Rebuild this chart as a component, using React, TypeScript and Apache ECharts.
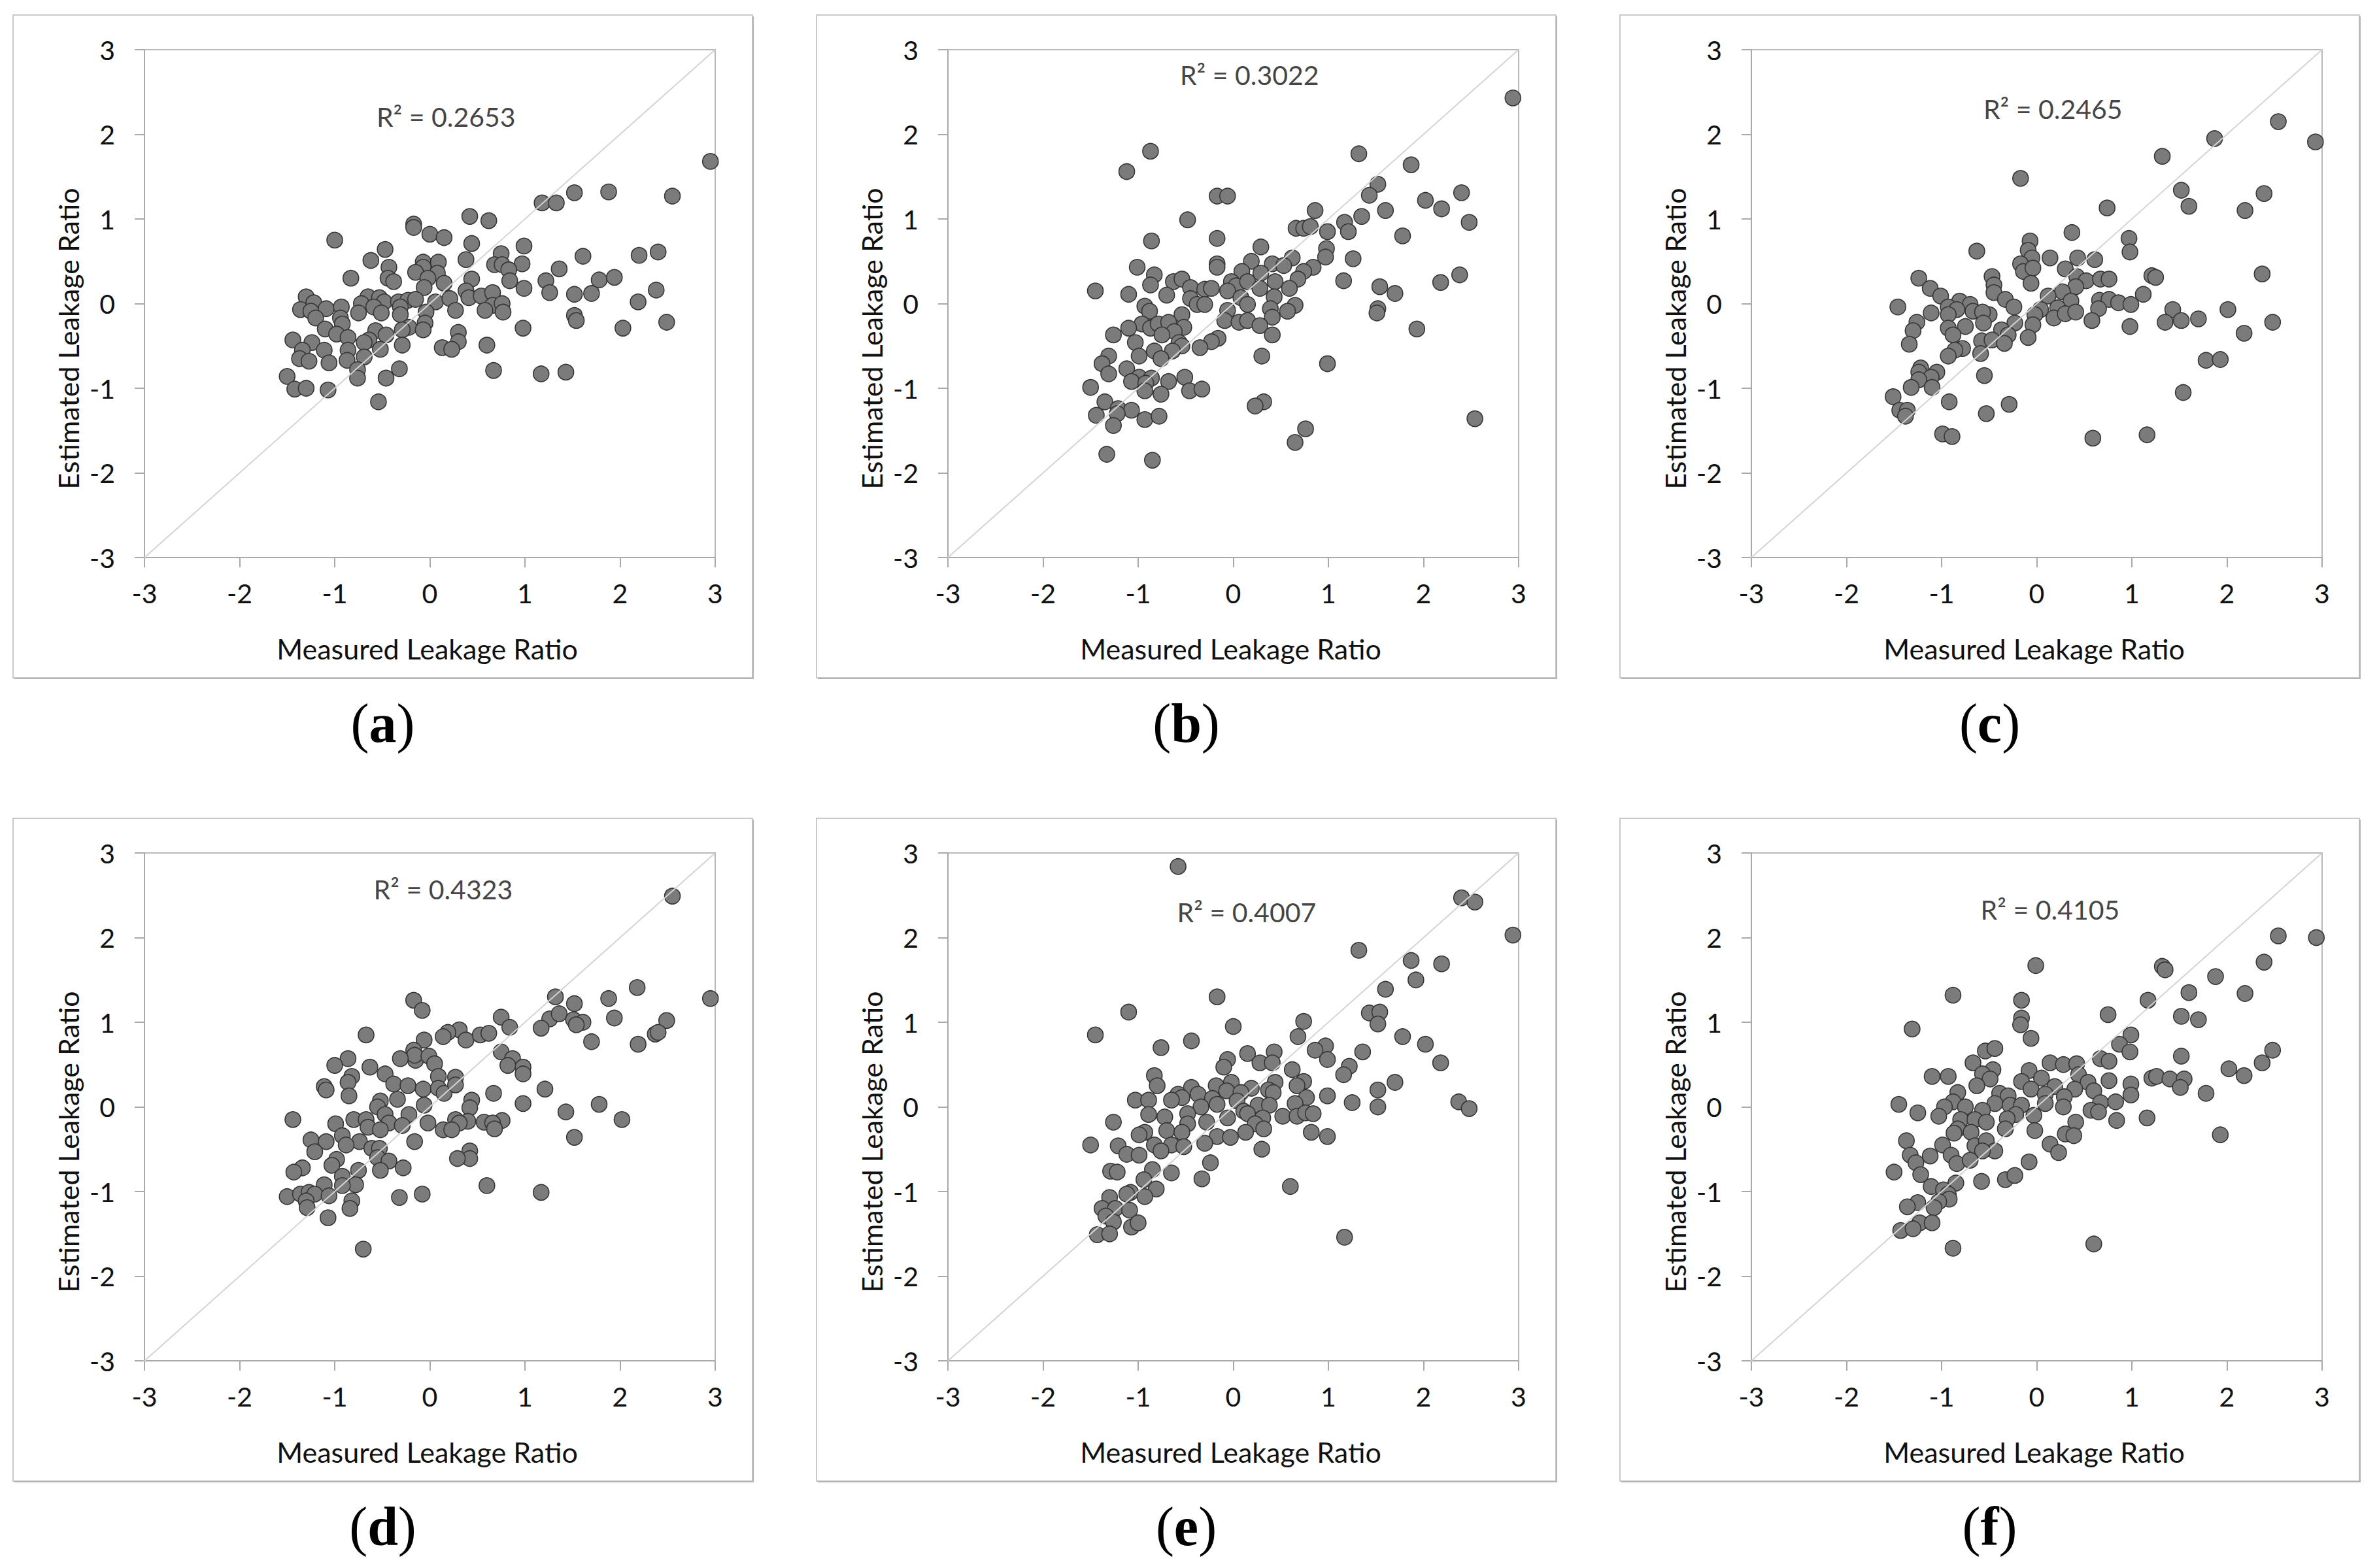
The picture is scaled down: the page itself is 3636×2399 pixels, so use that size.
import React, { useEffect, useRef } from "react";
import * as echarts from "echarts";

// ---------- DATA: [measured, estimated] leakage ratio pairs ----------
const panelA: number[][] = [
  [2.95,1.68],[1.52,1.31],[1.88,1.32],[1.18,1.19],[1.33,1.19],[2.55,1.27],[0.42,1.03],[0.62,0.98],[-0.17,0.94],[-0.17,0.90],
  [0.0,0.82],[0.15,0.78],[-1.0,0.75],[0.44,0.71],[-0.47,0.64],[0.99,0.68],[0.75,0.59],[1.61,0.56],[2.20,0.57],[2.40,0.61],
  [-0.62,0.51],[0.38,0.52],[-0.07,0.49],[0.09,0.49],[0.97,0.47],[0.68,0.46],[0.76,0.46],[-0.43,0.43],[-0.07,0.43],[-0.15,0.37],
  [0.08,0.36],[0.83,0.40],[1.36,0.41],[-0.83,0.30],[-0.44,0.30],[-0.38,0.26],[-0.02,0.30],[0.15,0.24],[0.44,0.29],[0.84,0.27],
  [1.22,0.27],[1.78,0.28],[1.94,0.31],[-0.06,0.19],[0.99,0.18],[1.26,0.13],[1.52,0.11],[1.70,0.12],[2.38,0.16],[-1.30,0.08],
  [-0.65,0.08],[-0.53,0.07],[-0.48,0.02],[-0.33,0.02],[-0.23,0.04],[-0.15,0.05],[0.06,0.02],[0.21,0.06],[0.38,0.15],[0.41,0.07],
  [0.54,0.09],[0.66,0.13],[0.66,-0.02],[0.76,0.0],[-1.22,0.01],[-1.36,-0.07],[-1.25,-0.09],[-1.09,-0.06],[-0.93,-0.04],[-0.72,0.0],
  [-0.59,-0.04],[-0.31,-0.04],[-0.04,-0.10],[0.27,-0.08],[0.58,-0.08],[0.77,-0.10],[-0.75,-0.11],[-0.51,-0.11],[-0.31,-0.13],[-1.20,-0.17],
  [-0.94,-0.17],[1.52,-0.14],[1.54,-0.20],[2.49,-0.22],[-0.92,-0.24],[-0.05,-0.23],[-0.22,-0.28],[0.98,-0.29],[2.19,0.02],[2.03,-0.29],
  [-1.10,-0.30],[-0.29,-0.31],[-0.07,-0.31],[-0.57,-0.32],[-0.98,-0.36],[-0.46,-0.37],[0.30,-0.34],[-0.86,-0.40],[-1.44,-0.43],[-1.24,-0.46],
  [-0.64,-0.43],[0.30,-0.45],[-0.69,-0.46],[-0.29,-0.49],[0.60,-0.49],[0.13,-0.52],[0.23,-0.54],[-0.52,-0.54],[-1.11,-0.55],[-1.34,-0.55],
  [-0.86,-0.55],[-0.69,-0.63],[-1.37,-0.65],[-1.27,-0.68],[-0.87,-0.67],[-1.06,-0.70],[-0.76,-0.78],[-0.32,-0.77],[0.67,-0.79],[1.17,-0.83],
  [1.43,-0.81],[-1.50,-0.86],[-0.76,-0.88],[-0.46,-0.88],[-1.42,-1.01],[-1.30,-1.00],[-1.07,-1.02],[-0.54,-1.16],
];

const panelB: number[][] = [
  [2.94,2.43],[-0.87,1.80],[1.32,1.77],[-1.12,1.56],[1.87,1.64],[1.52,1.41],[1.43,1.28],[2.40,1.31],[-0.17,1.27],[-0.06,1.27],
  [2.02,1.22],[2.19,1.12],[0.86,1.10],[1.60,1.10],[-0.48,0.99],[1.35,1.03],[2.48,0.96],[1.17,0.96],[0.66,0.89],[0.74,0.89],
  [0.81,0.91],[0.99,0.85],[1.21,0.85],[1.78,0.80],[-0.17,0.77],[-0.86,0.74],[0.29,0.67],[0.98,0.65],[0.97,0.55],[0.62,0.54],
  [1.26,0.53],[-0.17,0.47],[-0.17,0.43],[0.19,0.50],[0.41,0.47],[0.53,0.45],[0.84,0.43],[-1.01,0.43],[-0.83,0.34],[0.09,0.38],
  [0.29,0.36],[0.74,0.38],[0.68,0.29],[1.16,0.27],[2.38,0.34],[2.18,0.25],[-0.87,0.22],[-0.63,0.26],[-0.54,0.29],[-0.45,0.19],
  [-0.30,0.17],[-0.23,0.18],[-0.02,0.26],[0.03,0.21],[0.15,0.26],[0.28,0.18],[0.44,0.26],[0.59,0.18],[1.54,0.20],[1.70,0.12],
  [-1.45,0.15],[-1.10,0.11],[-0.70,0.10],[-0.45,0.06],[-0.38,-0.01],[-0.30,-0.01],[-0.06,0.15],[0.08,0.07],[0.15,-0.01],[0.43,0.08],
  [0.65,-0.02],[-0.93,-0.03],[-0.88,-0.09],[-0.06,-0.08],[0.39,-0.06],[0.57,-0.09],[1.52,-0.06],[1.51,-0.11],[-0.54,-0.13],[0.41,-0.16],
  [-0.96,-0.24],[-1.10,-0.29],[-0.87,-0.29],[-0.79,-0.24],[-0.68,-0.22],[-0.52,-0.28],[-0.09,-0.20],[0.06,-0.22],[0.15,-0.20],[0.28,-0.26],
  [1.93,-0.30],[-0.62,-0.33],[-0.75,-0.37],[-1.26,-0.37],[0.41,-0.37],[-0.16,-0.41],[-0.23,-0.45],[-1.03,-0.46],[-0.57,-0.46],[-0.54,-0.50],
  [-0.35,-0.52],[-0.64,-0.56],[-0.83,-0.56],[-0.99,-0.62],[-0.76,-0.65],[0.30,-0.62],[-1.31,-0.62],[-1.38,-0.71],[0.99,-0.71],[-1.12,-0.77],
  [-1.31,-0.83],[-0.99,-0.87],[-1.07,-0.92],[-0.86,-0.88],[-0.92,-0.94],[-0.68,-0.92],[-0.51,-0.87],[-1.50,-0.99],[-0.93,-1.03],[-0.76,-1.07],
  [-0.46,-1.03],[-0.33,-1.01],[-1.35,-1.16],[0.32,-1.16],[0.23,-1.21],[-1.44,-1.32],[-1.21,-1.24],[-1.07,-1.26],[-1.22,-1.30],[-1.26,-1.44],
  [-0.93,-1.37],[-0.78,-1.33],[2.54,-1.36],[0.76,-1.48],[0.65,-1.64],[-1.33,-1.78],[-0.85,-1.85],
];

const panelC: number[][] = [
  [2.54,2.15],[2.93,1.91],[1.87,1.95],[1.32,1.74],[-0.17,1.48],[1.52,1.34],[2.39,1.30],[0.74,1.13],[1.60,1.15],[2.19,1.10],
  [0.37,0.84],[-0.07,0.74],[-0.09,0.63],[0.97,0.77],[0.98,0.61],[-0.63,0.62],[0.14,0.54],[0.43,0.54],[0.61,0.52],[-0.05,0.54],
  [-0.17,0.47],[-0.14,0.38],[-0.04,0.42],[0.30,0.41],[-0.47,0.32],[-1.24,0.30],[-0.45,0.22],[-0.06,0.24],[0.42,0.32],[0.52,0.27],
  [0.67,0.29],[0.76,0.29],[1.21,0.33],[1.25,0.31],[2.37,0.35],[0.41,0.20],[-1.12,0.18],[-1.01,0.09],[-0.45,0.13],[-0.33,0.05],
  [0.27,0.14],[0.12,0.09],[1.12,0.11],[-0.81,0.03],[-0.70,-0.01],[0.36,0.03],[0.66,0.04],[0.76,0.05],[0.86,0.01],[0.99,-0.01],
  [-1.46,-0.04],[-0.93,-0.04],[-0.84,-0.07],[-0.67,-0.09],[-0.50,-0.13],[-0.24,-0.04],[0.04,-0.07],[0.22,-0.05],[0.65,-0.06],[1.43,-0.07],
  [2.01,-0.07],[-1.11,-0.11],[-0.93,-0.13],[-0.57,-0.10],[-0.02,-0.13],[0.18,-0.17],[0.30,-0.12],[0.41,-0.10],[0.58,-0.20],[1.35,-0.22],
  [1.52,-0.20],[1.70,-0.18],[2.48,-0.22],[-1.26,-0.22],[-0.75,-0.27],[-0.56,-0.23],[-0.23,-0.23],[-0.04,-0.25],[0.98,-0.27],[-0.93,-0.29],
  [-1.30,-0.32],[-0.37,-0.31],[-0.30,-0.37],[-0.88,-0.37],[2.18,-0.35],[-0.09,-0.40],[-0.58,-0.44],[-0.47,-0.43],[-1.34,-0.48],[-0.34,-0.47],
  [-0.78,-0.53],[-0.86,-0.55],[-0.59,-0.59],[-0.93,-0.62],[1.78,-0.67],[1.93,-0.66],[-1.22,-0.76],[-1.24,-0.81],[-1.05,-0.81],[-1.11,-0.87],
  [-1.24,-0.90],[-0.55,-0.85],[-1.10,-0.99],[-1.32,-0.99],[1.54,-1.05],[-1.51,-1.10],[-0.92,-1.16],[-0.29,-1.19],[-1.44,-1.26],[-1.36,-1.26],
  [-1.38,-1.33],[-0.53,-1.30],[-0.99,-1.54],[-0.89,-1.57],[0.59,-1.59],[1.16,-1.55],
];

const panelD: number[][] = [
  [2.55,2.49],[2.95,1.28],[2.18,1.41],[1.32,1.30],[1.52,1.22],[1.88,1.28],[-0.17,1.26],[-0.08,1.14],[1.26,1.04],[1.36,1.10],
  [1.94,1.05],[2.49,1.02],[0.75,1.06],[1.51,1.03],[1.61,1.00],[1.54,0.97],[0.84,0.94],[1.17,0.93],[0.31,0.91],[0.19,0.88],
  [0.14,0.83],[0.38,0.79],[0.53,0.85],[0.62,0.87],[-0.67,0.85],[-0.06,0.79],[2.37,0.86],[2.40,0.88],[1.70,0.77],[2.19,0.74],
  [-0.17,0.67],[-0.15,0.55],[-0.16,0.61],[-0.31,0.57],[-0.01,0.60],[0.05,0.51],[0.75,0.65],[0.87,0.57],[0.82,0.49],[0.98,0.47],
  [0.98,0.39],[-0.86,0.57],[-1.00,0.49],[-0.63,0.47],[-0.47,0.39],[0.09,0.36],[0.27,0.35],[-0.82,0.36],[-0.86,0.29],[-0.38,0.27],
  [-0.23,0.25],[-0.07,0.21],[0.09,0.22],[0.15,0.16],[0.27,0.26],[1.21,0.21],[-1.11,0.24],[-1.09,0.20],[0.67,0.16],[-0.85,0.13],
  [-0.34,0.09],[0.44,0.08],[-0.52,0.07],[-0.06,0.02],[0.98,0.04],[1.78,0.03],[-0.55,0.0],[0.42,-0.01],[1.43,-0.06],[-0.47,-0.09],
  [-0.22,-0.09],[-1.44,-0.15],[-0.80,-0.15],[-0.67,-0.15],[0.27,-0.15],[0.40,-0.17],[0.57,-0.18],[0.76,-0.16],[2.02,-0.15],[-0.99,-0.20],
  [-0.65,-0.24],[-0.43,-0.19],[-0.29,-0.22],[-0.02,-0.19],[0.31,-0.19],[0.66,-0.19],[-0.52,-0.27],[0.14,-0.27],[0.23,-0.27],[0.68,-0.26],
  [1.52,-0.36],[-0.92,-0.34],[-0.16,-0.41],[-1.25,-0.39],[-1.09,-0.41],[-0.74,-0.41],[-0.88,-0.45],[-0.61,-0.49],[-0.53,-0.49],[-1.21,-0.53],
  [0.42,-0.52],[0.42,-0.61],[0.29,-0.61],[-0.98,-0.62],[-0.55,-0.60],[-0.43,-0.64],[-1.03,-0.69],[-1.34,-0.72],[-1.43,-0.77],[-0.75,-0.75],
  [-0.52,-0.75],[-0.28,-0.72],[-0.92,-0.82],[-1.11,-0.92],[-0.78,-0.92],[-0.92,-0.93],[0.60,-0.93],[-1.50,-1.06],[-1.36,-1.03],[-1.27,-1.01],
  [-1.21,-1.03],[-1.06,-1.05],[-1.30,-1.11],[-1.29,-1.19],[-0.82,-1.11],[-0.84,-1.20],[-0.32,-1.07],[-0.08,-1.03],[1.17,-1.01],[-1.07,-1.31],
  [-0.70,-1.68],
];

const panelE: number[][] = [
  [-0.58,2.84],[2.40,2.47],[2.54,2.42],[2.94,2.03],[1.32,1.85],[1.87,1.73],[2.19,1.69],[1.92,1.50],[1.60,1.39],[-0.17,1.30],
  [-1.10,1.12],[1.43,1.11],[1.54,1.12],[1.52,0.98],[0.74,1.01],[0.0,0.95],[-1.45,0.85],[0.68,0.83],[1.78,0.83],[-0.44,0.78],
  [2.02,0.74],[-0.76,0.70],[0.97,0.72],[0.86,0.67],[1.36,0.65],[0.15,0.63],[0.43,0.65],[0.99,0.56],[-0.06,0.56],[0.28,0.52],
  [0.41,0.52],[2.18,0.52],[-0.10,0.47],[1.22,0.48],[0.62,0.44],[1.16,0.38],[-0.83,0.37],[0.74,0.30],[0.44,0.29],[1.70,0.29],
  [-0.80,0.25],[-0.44,0.23],[-0.18,0.25],[-0.02,0.29],[0.19,0.22],[0.37,0.20],[0.42,0.17],[0.67,0.25],[1.52,0.20],[-0.58,0.15],
  [-0.54,0.11],[-0.37,0.15],[-0.22,0.10],[-0.07,0.19],[0.08,0.17],[-1.03,0.08],[-0.89,0.08],[-0.65,0.08],[0.99,0.13],[0.77,0.11],
  [0.04,0.07],[0.65,0.04],[-0.34,0.0],[0.26,0.02],[0.38,0.02],[1.25,0.05],[1.52,0.0],[2.37,0.06],[2.48,-0.02],[-0.17,0.03],
  [-0.89,-0.09],[-0.72,-0.12],[-0.48,-0.08],[0.11,-0.05],[0.15,-0.08],[0.31,-0.13],[0.52,-0.11],[0.67,-0.11],[0.76,-0.07],[0.84,-0.08],
  [-1.26,-0.18],[-0.28,-0.18],[-0.06,-0.13],[0.23,-0.20],[-0.48,-0.20],[-0.70,-0.28],[-0.54,-0.30],[-0.93,-0.30],[-0.99,-0.33],[0.32,-0.26],
  [0.13,-0.30],[0.82,-0.30],[-0.17,-0.35],[-0.03,-0.36],[0.99,-0.35],[-1.50,-0.45],[-1.21,-0.46],[-0.83,-0.45],[-0.65,-0.45],[-0.52,-0.47],
  [-0.30,-0.43],[-0.76,-0.52],[0.30,-0.50],[-1.12,-0.56],[-0.99,-0.57],[-0.24,-0.66],[-0.85,-0.74],[-1.29,-0.76],[-1.22,-0.77],[-0.65,-0.78],
  [-0.94,-0.86],[-0.33,-0.85],[0.60,-0.94],[-0.81,-0.97],[-1.08,-1.01],[-1.12,-1.03],[-0.93,-1.06],[-1.30,-1.07],[-1.38,-1.20],[-1.24,-1.20],
  [-1.09,-1.22],[-1.34,-1.29],[-1.26,-1.36],[-1.07,-1.42],[-1.00,-1.37],[-1.43,-1.51],[-1.30,-1.50],[1.17,-1.54],
];

const panelF: number[][] = [
  [2.54,2.02],[2.94,2.00],[-0.01,1.67],[1.32,1.66],[1.35,1.62],[2.39,1.71],[1.88,1.54],[-0.88,1.32],[1.60,1.35],[2.19,1.34],
  [-0.16,1.26],[1.17,1.26],[-1.31,0.92],[-0.16,1.05],[-0.17,0.97],[0.75,1.09],[1.52,1.07],[1.70,1.03],[-0.06,0.81],[0.99,0.85],
  [0.87,0.74],[0.98,0.65],[-0.54,0.66],[-0.44,0.69],[2.48,0.67],[1.52,0.60],[0.67,0.57],[0.76,0.54],[-0.67,0.52],[0.14,0.52],
  [0.28,0.50],[0.42,0.51],[2.37,0.52],[-0.46,0.44],[-0.08,0.43],[-0.57,0.39],[0.44,0.38],[2.02,0.45],[-1.10,0.36],[-0.93,0.36],
  [-0.49,0.33],[0.05,0.34],[0.76,0.31],[1.21,0.34],[1.26,0.36],[1.40,0.33],[1.55,0.33],[2.18,0.37],[0.54,0.29],[0.99,0.27],
  [-0.63,0.25],[-0.16,0.30],[-0.06,0.21],[0.19,0.24],[0.40,0.21],[1.51,0.23],[-0.39,0.16],[-0.30,0.13],[0.09,0.15],[0.29,0.12],
  [0.60,0.19],[0.99,0.14],[1.78,0.16],[-0.83,0.17],[-0.88,0.06],[-0.75,0.0],[-0.97,0.0],[-0.44,0.04],[-0.28,0.02],[-0.16,0.02],
  [0.09,0.04],[0.28,0.0],[0.67,0.05],[0.83,0.06],[-1.45,0.03],[-1.25,-0.07],[-0.57,-0.04],[-0.22,-0.09],[-0.03,-0.10],[0.57,-0.04],
  [0.65,-0.06],[-1.03,-0.11],[-0.80,-0.15],[-0.65,-0.15],[-0.53,-0.18],[-0.31,-0.14],[1.16,-0.13],[0.84,-0.16],[0.41,-0.18],[-0.83,-0.26],
  [-0.69,-0.30],[-0.87,-0.31],[-0.33,-0.26],[-0.02,-0.28],[0.30,-0.32],[0.39,-0.34],[1.93,-0.33],[-1.37,-0.40],[-0.99,-0.45],[-0.65,-0.46],
  [-0.53,-0.40],[0.14,-0.44],[-1.33,-0.57],[-1.12,-0.58],[-0.90,-0.57],[-0.44,-0.52],[0.23,-0.54],[-0.57,-0.52],[-1.27,-0.66],[-0.84,-0.67],
  [-0.70,-0.63],[-0.08,-0.65],[-1.50,-0.77],[-1.22,-0.80],[-0.33,-0.86],[-0.23,-0.81],[-0.58,-0.88],[-0.85,-0.90],[-1.11,-0.94],[-0.98,-0.98],
  [-0.93,-1.03],[-0.92,-1.09],[-1.03,-1.12],[-1.08,-1.19],[-1.25,-1.13],[-1.36,-1.18],[-1.23,-1.37],[-1.10,-1.37],[-1.43,-1.46],[-1.30,-1.44],
  [-0.88,-1.67],[0.60,-1.62],
];

const panels = [panelA, panelB, panelC, panelD, panelE, panelF];
const panelLetters = ["a", "b", "c", "d", "e", "f"];
const r2Texts = ["R\u00b2 = 0.2653", "R\u00b2 = 0.3022", "R\u00b2 = 0.2465", "R\u00b2 = 0.4323", "R\u00b2 = 0.4007", "R\u00b2 = 0.4105"];
// where each R² note sits, in data units of its panel
const r2Anchor: number[][] = [[0.17, 2.21], [0.17, 2.70], [0.17, 2.30], [0.14, 2.57], [0.14, 2.30], [0.14, 2.33]];
const axisMin = -3;
const axisMax = 3;
const axisStep = 1;
const xTitle = "Measured Leakage Ratio";
const yTitle = "Estimated Leakage Ratio";

// ---------- LAYOUT ----------
const W = 3636;
const H = 2399;
const PITCH_X = 1229;
const PITCH_Y = 1229;
const PLOT_L = 221;
const PLOT_T = 76;
const PLOT_W = 873;
const PLOT_H = 777;
const BOX_L = 20;
const BOX_T = 23;
const BOX_W = 1131;
const BOX_H = 1014;
const FONT = "Lato, 'Open Sans', sans-serif";
const AXIS_COLOR = "#a9a9a9";

function buildOption() {
  const grid: any[] = [];
  const xAxis: any[] = [];
  const yAxis: any[] = [];
  const series: any[] = [];
  const graphic: any[] = [];

  panels.forEach((pts, k) => {
    const col = k % 3;
    const row = Math.floor(k / 3);
    const ox = col * PITCH_X;
    const oy = row * PITCH_Y;

    grid.push({
      left: PLOT_L + ox,
      top: PLOT_T + oy,
      width: PLOT_W,
      height: PLOT_H,
      show: true,
      borderColor: "#b9b9b9",
      borderWidth: 2,
      backgroundColor: "transparent",
      containLabel: false,
    });

    const axisCommon = {
      gridIndex: k,
      type: "value",
      min: axisMin,
      max: axisMax,
      interval: axisStep,
      splitLine: { show: false },
      axisLine: { show: true, onZero: false, lineStyle: { color: AXIS_COLOR, width: 2 } },
      axisTick: { show: true, inside: false, length: 15, lineStyle: { color: AXIS_COLOR, width: 2 } },
    };
    xAxis.push({
      ...axisCommon,
      position: "bottom",
      axisLabel: { fontSize: 41, fontFamily: FONT, color: "#111", margin: 34 },
    });
    yAxis.push({
      ...axisCommon,
      position: "left",
      axisLabel: { fontSize: 41, fontFamily: FONT, color: "#111", margin: 45 },
    });

    series.push({
      type: "scatter",
      xAxisIndex: k,
      yAxisIndex: k,
      data: pts,
      symbol: "circle",
      symbolSize: 24,
      itemStyle: { color: "#7b7b7b", borderColor: "#363636", borderWidth: 1.6, opacity: 1 },
      z: 2,
      silent: true,
    });

    series.push({
      type: "line",
      xAxisIndex: k,
      yAxisIndex: k,
      data: [[axisMin, axisMin], [axisMax, axisMax]],
      symbol: "none",
      lineStyle: { color: "#d4d4d4", width: 2 },
      z: 3,
      silent: true,
    });

    series.push({
      type: "scatter",
      xAxisIndex: k,
      yAxisIndex: k,
      data: [r2Anchor[k]],
      symbolSize: 1,
      itemStyle: { color: "rgba(0,0,0,0)" },
      label: {
        show: true,
        position: "inside",
        formatter: r2Texts[k],
        fontSize: 41,
        fontFamily: FONT,
        color: "#111",
      },
      z: 4,
      silent: true,
    });

    // outer panel frame
    graphic.push({
      type: "rect",
      shape: { x: BOX_L + ox, y: BOX_T + oy, width: BOX_W, height: BOX_H },
      style: { fill: "none", stroke: "#c9c9c9", lineWidth: 2 },
      z: 0,
    });
    graphic.push({
      type: "polyline",
      shape: {
        points: [
          [BOX_L + ox + 2, BOX_T + oy + BOX_H + 1],
          [BOX_L + ox + BOX_W + 1, BOX_T + oy + BOX_H + 1],
          [BOX_L + ox + BOX_W + 1, BOX_T + oy + 2],
        ],
      },
      style: { fill: "none", stroke: "#b3b3b3", lineWidth: 2 },
      z: 0,
    });

    // axis titles
    graphic.push({
      type: "text",
      x: PLOT_L + ox + PLOT_W / 2 - 4,
      y: 992 + oy,
      style: { text: xTitle, fontSize: 43, fontFamily: FONT, fill: "#111", align: "center", verticalAlign: "middle" },
      z: 5,
    });
    graphic.push({
      type: "text",
      x: 104 + ox,
      y: 518 + oy,
      rotation: Math.PI / 2,
      style: { text: yTitle, fontSize: 43, fontFamily: FONT, fill: "#111", align: "center", verticalAlign: "middle" },
      z: 5,
    });

    // panel caption
    graphic.push({
      type: "text",
      x: BOX_L + ox + BOX_W / 2,
      y: 1106 + oy,
      style: {
        text: "{p|(}{b|" + panelLetters[k] + "}{p|)}",
        align: "center",
        verticalAlign: "middle",
        rich: {
          p: { fontSize: 84, fontFamily: "'Liberation Serif', 'DejaVu Serif', serif", fontWeight: "normal", fill: "#000" },
          b: { fontSize: 84, fontFamily: "'Liberation Serif', 'DejaVu Serif', serif", fontWeight: "bold", fill: "#000" },
        },
      },
      z: 5,
    });
  });

  return {
    animation: false,
    backgroundColor: "#ffffff",
    grid,
    xAxis,
    yAxis,
    series,
    graphic,
  };
}

export default function App() {
  const ref = useRef<HTMLDivElement>(null);
  useEffect(() => {
    if (!ref.current) return;
    const chart = echarts.init(ref.current, null, { renderer: "svg" });
    chart.setOption(buildOption() as any);
    return () => chart.dispose();
  }, []);
  return (
    <div
      ref={ref}
      style={{ position: "absolute", left: 0, top: 0, width: W, height: H, background: "#fff" }}
    />
  );
}
